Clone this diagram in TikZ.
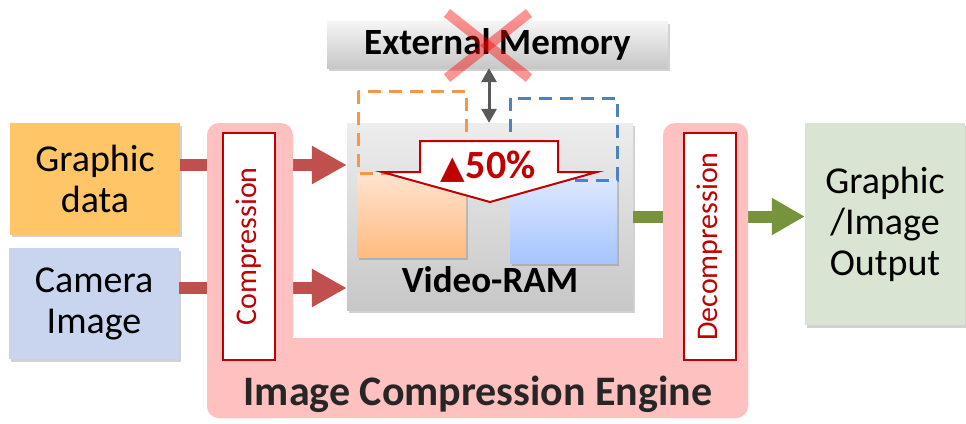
\documentclass[tikz,border=0pt]{standalone}
\usepackage{fontspec}
\setmainfont{Carlito}
\newfontfamily\dejavu{DejaVu Sans}
\usetikzlibrary{arrows.meta,shadows}
\definecolor{gdfill}{HTML}{FFC566}
\definecolor{camfill}{HTML}{C9D5EF}
\definecolor{outfill}{HTML}{D9E5D2}
\definecolor{redcon}{HTML}{C0504D}
\definecolor{greencon}{HTML}{77933C}
\definecolor{pinkeng}{HTML}{FFC0C0}
\definecolor{darkred}{HTML}{C00000}
\definecolor{dashorange}{HTML}{F79646}
\definecolor{dashblue}{HTML}{4F81BD}
\definecolor{arrowgray}{HTML}{595959}
\definecolor{textgray}{HTML}{262626}
\definecolor{otop}{HTML}{FFE3D0}
\definecolor{obot}{HTML}{FFBB80}
\definecolor{btop}{HTML}{DDE8FF}
\definecolor{bbot}{HTML}{A6C4FF}
\tikzset{
  shad/.style={drop shadow={shadow xshift=2pt,shadow yshift=-2.5pt,opacity=0.3,fill=black!60}},
  inbox/.style={shad,inner sep=0pt,align=center,font=\fontsize{38}{41}\selectfont},
  stagebox/.style={draw=darkred,line width=2.5pt,fill=white,minimum width=52pt,minimum height=227pt,inner sep=0pt},
  stagetext/.style={rotate=90,text=darkred,font=\fontsize{30}{34}\selectfont},
  redarrow/.style={draw=redcon,line width=12pt,-{Triangle[length=35pt,width=36pt]}},
  greenarrow/.style={draw=greencon,line width=12pt,-{Triangle[length=33pt,width=35pt]}},
  dblarrow/.style={draw=arrowgray,line width=3pt,{Triangle[length=14pt,width=15pt]}-{Triangle[length=14pt,width=15pt]}},
  dashbox/.style={line width=3pt,dash pattern=on 13pt off 8pt},
  boldlabel/.style={font=\bfseries\fontsize{37}{42}\selectfont,inner sep=0pt}
}
\begin{document}
\begin{tikzpicture}[x=1pt,y=-1pt]
\useasboundingbox (0,0) rectangle (966,423);
% input / output boxes
\node[inbox,fill=gdfill,minimum width=170pt,minimum height=111.5pt] (gd) at (95,178.75) {Graphic\\data};
\node[inbox,fill=camfill,minimum width=170pt,minimum height=111pt] (cam) at (94,303.5) {Camera\\Image};
\node[inbox,fill=outfill,minimum width=160pt,minimum height=202pt] (out) at (885,224) {Graphic\\/Image\\Output};
% Video-RAM
\node[shad,top color=black!7,bottom color=black!22,minimum width=286pt,minimum height=187pt,inner sep=0pt] (vr) at (490,216.5) {};
% connectors (behind engine)
\draw[redarrow] (gd.east |- 0,165) -- (vr.west |- 0,165);
\draw[redarrow] (cam.east |- 0,288) -- (vr.west |- 0,288);
\draw[greenarrow] (vr.east) -- (out.west |- vr.east);
% engine
\fill[pinkeng,rounded corners=12pt] (207,123) rectangle (293,418);
\fill[pinkeng,rounded corners=12pt] (663,123) rectangle (748,418);
\fill[pinkeng,rounded corners=12pt] (207,338) rectangle (748,418);
\node[stagebox] (comp) at (249,246.5) {};
\node[stagetext] (comptxt) at (comp) {Compression};
\node[stagebox] (decomp) at (710,246.5) {};
\node[stagetext] (decomptxt) at (decomp) {Decompression};
\node[boldlabel,text=textgray,font=\bfseries\fontsize{42}{46}\selectfont] (ice) at (478,394) {Image Compression Engine};
% sub buffers
\node[shad,top color=otop,bottom color=obot,minimum width=109pt,minimum height=84pt,inner sep=0pt] (osub) at (411.5,215) {};
\node[shad,top color=btop,bottom color=bbot,minimum width=107pt,minimum height=85pt,inner sep=0pt] (bsub) at (563.5,220.5) {};
\draw[dashbox,draw=dashorange] (358,91) rectangle (466,173);
\draw[dashbox,draw=dashblue] (510,98) rectangle (617,180);
% reduction arrow
\draw[draw=darkred,line width=2pt,fill=white,line join=miter] (420,141) -- (558,141) -- (558,172) -- (597,172) -- (490,202) -- (382,172) -- (420,172) -- cycle;
\node[inner sep=0pt,text=darkred] (pct) at (488,167) {{\dejavu\fontsize{32}{34}\selectfont ▲}\hspace{1pt}{\bfseries\fontsize{40}{44}\selectfont 50\%}};
\node[boldlabel] (vrtxt) at (490,280) {Video-RAM};
% external memory
\node[shad,top color=black!4,bottom color=black!22,minimum width=341pt,minimum height=47pt,inner sep=0pt] (em) at (497.5,44.5) {};
\node[boldlabel,font=\bfseries\fontsize{37}{40}\selectfont] (emtxt) at (em) {External Memory};
\draw[red,opacity=0.42,line width=10pt] (447,13) -- (529,78);
\draw[red,opacity=0.42,line width=10pt] (529,13) -- (447,78);
\draw[dblarrow] (em.south -| 489,0) -- (vr.north -| 489,0);
\end{tikzpicture}
\end{document}
